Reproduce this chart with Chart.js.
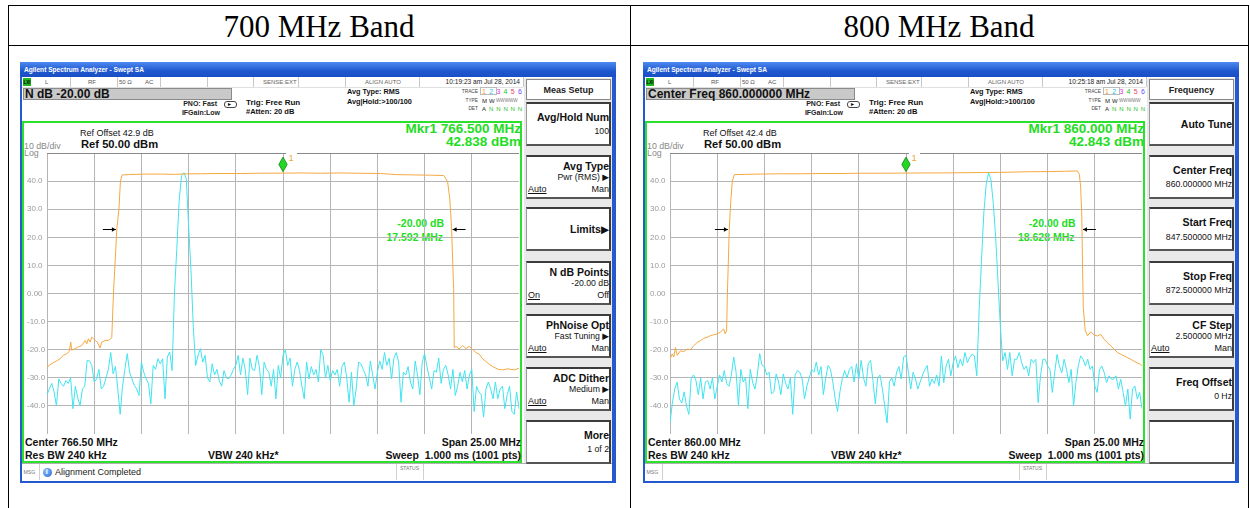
<!DOCTYPE html>
<html><head><meta charset="utf-8">
<script src="https://cdn.jsdelivr.net/npm/chart.js@4.4.1/dist/chart.umd.min.js"></script>
<style>
html,body{margin:0;padding:0;background:#fff;}
#root{position:relative;width:1250px;height:508px;overflow:hidden;font-family:"Liberation Sans",Arial,sans-serif;}
canvas{position:absolute;}
</style></head>
<body><div id="root"></div>
<script>
// ---------------- DATA ----------------
const bandTitles = ['700 MHz Band', '800 MHz Band'];
const sweepStepMHz = 0.125;             // trace sample spacing
const span700 = [754.0, 779.0];         // start / stop (MHz)
const span800 = [847.5, 872.5];
const levelTicks = [50, 40, 30, 20, 10, 0, -10, -20, -30, -40, -50];
const levelTickLabels = ['', '40.0', '30.0', '20.0', '10.0', '0.00', '-10.0', '-20.0', '-30.0', '-40.0', ''];

// Trace 1 (orange, average) 700 MHz
const orangeFreq700 = [754.0,754.16,754.34,754.51,754.69,754.87,755.05,755.18,755.26,755.31,755.49,755.66,755.84,756.02,756.11,756.19,756.28,756.37,756.46,756.55,756.67,756.81,756.90,757.08,757.25,757.43,757.52,757.70,757.81,757.89,757.98,758.3,758.67,759.2,760.0,760.8,761.5,762.12,763.0,764.24,765.3,766.53,767.5,768.49,769.6,770.5,771.67,772.1,772.52,773.4,774.33,775.02,775.22,775.34,775.43,775.54,775.57,775.66,775.83,776.01,776.19,776.36,776.54,776.72,776.89,777.07,777.25,777.42,777.60,777.87,778.13,778.40,778.75,779.0];
const orangeLevel700 = [-26.2,-25.4,-24.6,-24.0,-23.2,-22.0,-21.4,-20.6,-17.3,-20.2,-19.6,-19.0,-18.5,-16.7,-17.9,-16.1,-17.3,-15.5,-16.1,-16.7,-17.3,-19.4,-17.3,-16.7,-16.7,-15.8,0,23,30,40,42.2,42.3,42.4,42.5,42.5,42.4,42.6,42.6,42.7,42.7,42.8,42.84,42.9,42.8,42.9,42.8,42.7,42.5,42.3,42.2,42.1,42.0,39.8,33.3,23,1.4,-19.3,-18.8,-19.8,-18.5,-19.6,-18.8,-19.9,-21.0,-21.6,-23.2,-24.2,-25.2,-26.0,-26.9,-27.2,-26.8,-27.2,-26.6];
// Trace 2 (cyan) 700 MHz, one value per sweep sample
const cyanLevel700 = [
-36,-34,-32,-35,-40,-30.4,-32,-33,-31,-32,
-30,-41,-33,-37,-40,-34,-33,-23.8,-24,-25.6,
-31.5,-30.4,-27,-34,-33,-30,-27,-21,-28.6,-26,
-34,-43,-33,-27,-21.4,-28,-30.4,-32.7,-34,-36.3,
-24.4,-28,-30.4,-32,-39.3,-25.6,-27,-23.2,-25,-23.2,
-37.5,-22.6,-20.8,-27.4,0,16,33,42,43,41,
24,8.5,-12,-25.6,-22,-19.6,-24.4,-22,-30,-31.5,
-25,-29,-27,-31,-33,-27.4,-30,-30.4,-29,-27,
-25.6,-22,-29,-23,-27,-36,-23,-27,-27.4,-22,
-26,-36,-24.4,-27,-28,-33,-27,-37.5,-25.6,-30,
-22,-20,-25.6,-23,-33,-27,-24.4,-27.4,-33,-37.5,
-24.4,-30.4,-26,-29,-27,-31.5,-20,-22,-30,-25.6,
-31,-27.4,-29,-27,-33,-26,-24.4,-30,-38.7,-28,
-40,-34,-24.4,-25,-27,-29,-33,-24,-29,-34,
-28,-24,-27,-21,-25.6,-23,-30.4,-23,-21,-24.4,
-38.7,-28,-29,-26,-31.5,-34,-24,-29,-36,-24.4,
-21.4,-26,-30,-34,-27.4,-28,-23,-32,-27,-25.6,
-29,-34,-27,-36.3,-33,-28,-31.5,-27.4,-34,-29,
-27,-42,-33,-35,-36,-44,-34,-31.5,-34,-37.5,
-31.5,-37.5,-34,-33,-41,-36,-33,-42,-43,-35,
-41];

// Trace 1 (orange) 800 MHz
const orangeFreq800 = [847.5,847.62,847.70,847.79,847.88,848.05,848.23,848.41,848.58,848.76,848.94,849.11,849.28,849.46,849.64,849.81,849.99,850.17,850.34,850.43,850.50,850.54,850.64,850.72,850.80,850.91,851.5,852.28,853.3,854.39,855.5,856.5,857.56,858.8,860.04,861.0,861.78,863.4,864.95,866.3,867.59,868.4,869.07,869.18,869.25,869.31,869.35,869.39,869.49,869.61,869.79,869.97,870.14,870.32,870.49,870.67,870.85,871.02,871.2,871.37,871.55,871.72,871.90,872.08,872.25,872.43,872.5];
const orangeLevel800 = [-23.3,-21.5,-22.6,-19.2,-22.0,-20.4,-20.7,-19.8,-20.0,-18.6,-17.4,-16.8,-16.0,-15.6,-15.0,-14.7,-14.4,-13.8,-12.6,-14.4,-13.0,0,23,33,40,42.3,42.4,42.5,42.6,42.6,42.7,42.7,42.8,42.8,42.85,42.9,42.9,43.0,43.1,43.3,43.4,43.5,43.6,42.5,38,28,10,-5,-13,-15.1,-13.6,-14.8,-15.1,-14.6,-16.3,-17.5,-18.6,-19.8,-21.0,-21.6,-22.2,-22.8,-23.4,-24.1,-24.7,-25.2,-25.8];
// Trace 2 (cyan) 800 MHz
const cyanLevel800 = [
-46,-39,-34,-31.5,-37.5,-39,-35,-40,-43,-30,
-29,-31,-36,-30,-37.5,-31.5,-31,-34,-30,-37.5,
-33,-29,-31.5,-27.4,-32,-33,-29,-22.6,-28,-40,
-27,-31.5,-30,-41,-27,-31.5,-34,-29,-21.4,-25.6,
-26,-29,-28,-35.7,-35,-28.6,-31.5,-36,-28.6,-32,
-34,-30,-43,-29,-27.4,-28,-30.4,-37.5,-33,-30,
-27,-28,-24.4,-29,-26,-36,-30,-25.6,-27,-31.5,
-37.5,-42,-35,-30.4,-27.4,-30,-27,-26,-31.5,-25,
-30.4,-23.8,-30,-33,-25,-23.8,-31,-39.3,-30,-29,
-34,-40,-46,-31.5,-30,-33,-28,-26,-30.4,-22.6,
-22,-28,-34,-28,-30.4,-34,-31.5,-29,-27,-25.6,
-33,-30.4,-32,-29,-33,-22.2,-31.7,-25.8,-23.4,-29.3,
-24.6,-22.2,-26.4,-23.4,-25.8,-21,-24.6,-22.8,-21.6,-22.2,
-29.3,-6,12,29,39,43,40.5,32,20,4,
-12,-24,-21,-27,-21,-29.3,-23.4,-23.4,-21,-24.6,
-27,-25.8,-29.3,-23.4,-24.6,-23.4,-38.8,-29.3,-23.4,-23.4,
-25.8,-27,-35.2,-28.2,-21.7,-25.8,-28.2,-23.4,-27,-31.7,
-27,-40,-31.7,-25.8,-22.2,-23.4,-25.8,-23.4,-27,-25.8,
-32.9,-35.2,-27,-25.8,-28.2,-31.7,-29.3,-30.5,-30.5,-29.3,
-34,-30.5,-35.2,-40,-34,-44.7,-34,-32.9,-37.6,-35.2,
-41];

// Marker 1 [freq MHz, level dBm] and N dB points [left MHz, right MHz, level dBm]
const marker700 = [766.5, 42.838];
const ndb700 = [757.7, 775.43, 22.838];
const marker800 = [860.0, 42.843];
const ndb800 = [850.62, 869.32, 22.843];

// ---------------- PAGE ----------------
const R = document.getElementById('root');
const FONT = '"Liberation Sans",Arial,"DejaVu Sans",sans-serif';
function el(css, text){ const d=document.createElement('div'); d.style.cssText='position:absolute;'+css; if(text!=null) d.textContent=text; R.appendChild(d); return d; }
function box(x,y,w,h,css){ return el(`left:${x}px;top:${y}px;width:${w}px;height:${h}px;${css||''}`); }
function txt(x, cy, s, size, o){
  o = o||{};
  const a = o.align||'l';
  let pos = a==='r' ? `right:${1250-x}px;` : `left:${x}px;`;
  if(a==='c') pos += 'transform:translateX(-50%);';
  return el(`${pos}top:${(cy-size*0.56).toFixed(1)}px;font-size:${size}px;line-height:${(size*1.15).toFixed(2)}px;white-space:nowrap;font-weight:${o.b?'bold':'normal'};color:${o.c||'#000'};font-family:${o.f||FONT};${o.css||''}`, s);
}

// table
box(8,5,1241,1,'background:#000');
box(8,45,1241,1,'background:#000');
box(8,5,1,503,'background:#000');
box(630,5,1,503,'background:#000');
box(1248,5,1,503,'background:#000');
txt(319, 26.5, bandTitles[0], 31, {align:'c', f:'"Liberation Serif","Times New Roman",serif'});
txt(939, 26.5, bandTitles[1], 31, {align:'c', f:'"Liberation Serif","Times New Roman",serif'});

function buildScreen(ox, c){
  box(ox,62,596,421,'background:#2559cf');
  box(ox,62,596,15,'background:linear-gradient(#4d8af0,#1f57cf 60%,#1a4fc4)');
  txt(ox+4,69.5,'Agilent Spectrum Analyzer - Swept SA',6.6,{b:1,c:'#fff'});
  box(ox+2,77,590,404,'background:#fff');
  // status row
  [50,97,140,187,233,278,325,399,503].forEach(s=>box(ox+s,77,1,10,'background:#c8c8c8'));
  box(ox+2,87,501,1,'background:#e0e0e0');
  box(ox+3,78,8,8,'background:#1fb81f');
  txt(ox+3.5,82,'LXI',4.5,{b:1,c:'#000'});
  txt(ox+25,82,'L',6,{c:'#555'});
  txt(ox+68,82,'RF',6,{c:'#555'});
  txt(ox+99,82,'50 Ω',6,{c:'#555'});
  txt(ox+125,82,'AC',6,{c:'#555'});
  txt(ox+243,82,'SENSE:EXT',6,{c:'#666'});
  txt(ox+345,82,'ALIGN AUTO',6,{c:'#666'});
  txt(ox+500,82,c.time,6.6,{align:'r',c:'#222'});
  // active function box
  box(ox+3,88,209,12,'background:#c9c9c9;border:1px solid #8a8a8a;box-sizing:border-box');
  txt(ox+5,94.2,c.active,12,{b:1,c:'#111'});
  txt(ox+197,104,'PNO: Fast',7,{b:1,align:'r',c:'#222'});
  txt(ox+200,113,'IFGain:Low',7,{b:1,align:'r',c:'#222'});
  box(ox+204,101,13,7,'border:1px solid #444;border-radius:3px;box-sizing:border-box;background:#fff');
  txt(ox+208,104.6,'▸',6,{c:'#000',f:'"DejaVu Sans"'});
  txt(ox+226,102,'Trig: Free Run',8,{b:1,c:'#111'});
  txt(ox+226,112,'#Atten: 20 dB',7.5,{b:1,c:'#111'});
  txt(ox+327,92,'Avg Type: RMS',7.3,{b:1,c:'#111'});
  txt(ox+327,102,'Avg|Hold:>100/100',7.3,{b:1,c:'#111'});
  txt(ox+458,92,'TRACE',4.8,{align:'r',c:'#444'});
  txt(ox+458,101,'TYPE',4.8,{align:'r',c:'#444'});
  txt(ox+458,109,'DET',4.8,{align:'r',c:'#444'});
  box(ox+460,87,17,8,'border:1px solid #bbb;box-sizing:border-box');
  const tc=['#f09a18','#22c8d8','#e030e0','#22c022','#ee3a6a','#6a4cff'];
  tc.forEach((col,i)=>txt(ox+462+i*7.2,92,String(i+1),7,{c:col}));
  txt(ox+462,101,'M',6,{c:'#222'});
  txt(ox+469,101,'W',6,{c:'#222'});
  txt(ox+476,101,'WWWWW',4.6,{c:'#777'});
  txt(ox+462,109.5,'A',6,{c:'#222'});
  [0,1,2,3,4].forEach(i=>txt(ox+469+i*7.2,109.5,'N',6,{c:'#22bb22'}));
  // green frame
  box(ox+2,121,500,342,'border:2px solid #2ee02e;box-sizing:border-box');
  txt(ox+60,133,c.refOffset,9,{c:'#111'});
  txt(ox+61,144,'Ref 50.00 dBm',11.2,{b:1,c:'#111'});
  txt(ox+4,145.5,'10 dB/div',8.8,{c:'#888'});
  txt(ox+4,153,'Log',8.8,{c:'#888'});
  txt(ox+501,128.5,c.mkrF,13.5,{b:1,align:'r',c:'#22dd22'});
  txt(ox+501,141.5,c.mkrA,13.5,{b:1,align:'r',c:'#22dd22'});
  txt(c.ndbX,222.5,'-20.00 dB',10.5,{b:1,align:'r',c:'#22dd22'});
  txt(c.ndbX-1,236.8,c.ndbBw,10.5,{b:1,align:'r',c:'#22dd22'});
  txt(ox+5,442.3,c.center,10.5,{b:1,c:'#111'});
  txt(ox+5,454.6,'Res BW 240 kHz',10.5,{b:1,c:'#111'});
  txt(ox+188,454.6,'VBW 240 kHz*',10.5,{b:1,c:'#111'});
  txt(ox+501,442.3,'Span 25.00 MHz',10.5,{b:1,align:'r',c:'#111'});
  txt(ox+501,454.6,'Sweep  1.000 ms (1001 pts)',10.5,{b:1,align:'r',c:'#111',css:'white-space:pre'});
  // status bar
  box(ox+2,463,590,1,'background:#b0b0b0');
  box(ox+19,464,1,16,'background:#d0d0d0');
  txt(ox+3.5,472,'MSG',5.2,{c:'#777'});
  if(c.msg){
    box(ox+23,467.5,9,9,'border-radius:50%;background:radial-gradient(circle at 35% 35%,#8fc2ff,#1f62d0)');
    txt(ox+25.8,472,'i',7.5,{b:1,c:'#fff'});
    txt(ox+35,472,c.msg,9,{c:'#222'});
  }
  box(ox+376,464,1,16,'background:#d0d0d0');
  box(ox+403,464,1,16,'background:#d0d0d0');
  txt(ox+389.5,469,'STATUS',5,{align:'c',c:'#777'});
  // softkey panel
  box(ox+504,78,88,385,'background:#e9e9e9');
  box(ox+506,79,85,21,'background:#fff;border:1px solid #888;box-sizing:border-box');
  txt(ox+548.5,89.5,c.menu,9,{b:1,align:'c',c:'#222'});
  const tops=[101.5,154.5,207,260.5,313.5,366.5,419.5];
  c.keys.forEach((k,i)=>{
    const t=tops[i];
    box(ox+506,t,85,44,'background:#fff;border-top:2px solid #3c3c3c;border-right:2px solid #3c3c3c;border-bottom:2px solid #555;border-left:1px solid #9a9a9a;box-sizing:border-box');
    if(!k.t) return;
    const rx=ox+589;
    if(k.a){
      txt(rx,t+11.5,k.t,10.5,{b:1,align:'r',c:'#111'});
      txt(rx,t+22.5,k.v,8.7,{align:'r',c:'#111'});
      txt(ox+508,t+34,k.a[0],9,{c:'#111',css:'text-decoration:underline'});
      txt(rx,t+34,k.a[1],9,{align:'r',c:'#111'});
    } else if(k.v){
      txt(rx,t+15,k.t,10.5,{b:1,align:'r',c:'#111'});
      txt(rx,t+29.5,k.v,8.7,{align:'r',c:'#111'});
    } else {
      txt(rx,t+22.3,k.t,10.5,{b:1,align:'r',c:'#111'});
    }
  });
  const cv=document.createElement('canvas');
  cv.width=492; cv.height=281;
  cv.style.left=(ox+7)+'px'; cv.style.top='153px';
  R.appendChild(cv);
  return cv;
}

const cv700 = buildScreen(20, {
  time:'10:19:23 am Jul 28, 2014', active:'N dB -20.00 dB', refOffset:'Ref Offset 42.9 dB',
  mkrF:'Mkr1 766.500 MHz', mkrA:'42.838 dBm', ndbX:444, ndbBw:'17.592 MHz', center:'Center 766.50 MHz',
  msg:'Alignment Completed', menu:'Meas Setup',
  keys:[{t:'Avg/Hold Num',v:'100'},{t:'Avg Type',v:'Pwr (RMS) ▶',a:['Auto','Man']},{t:'Limits▶'},
        {t:'N dB Points',v:'-20.00 dB',a:['On','Off']},{t:'PhNoise Opt',v:'Fast Tuning ▶',a:['Auto','Man']},
        {t:'ADC Dither',v:'Medium ▶',a:['Auto','Man']},{t:'More',v:'1 of 2'}]
});
const cv800 = buildScreen(643, {
  time:'10:25:18 am Jul 28, 2014', active:'Center Freq 860.000000 MHz', refOffset:'Ref Offset 42.4 dB',
  mkrF:'Mkr1 860.000 MHz', mkrA:'42.843 dBm', ndbX:1075.5, ndbBw:'18.628 MHz', center:'Center 860.00 MHz',
  msg:'', menu:'Frequency',
  keys:[{t:'Auto Tune'},{t:'Center Freq',v:'860.000000 MHz'},{t:'Start Freq',v:'847.500000 MHz'},
        {t:'Stop Freq',v:'872.500000 MHz'},{t:'CF Step',v:'2.500000 MHz',a:['Auto','Man']},
        {t:'Freq Offset',v:'0 Hz'},{}]
});

// ---------------- CHARTS ----------------
Chart.defaults.font.family = '"Liberation Sans", Arial, sans-serif';

function arrow(ctx, from, to, y){
  ctx.strokeStyle='#000'; ctx.fillStyle='#000'; ctx.lineWidth=1;
  ctx.beginPath(); ctx.moveTo(from,y); ctx.lineTo(to,y); ctx.stroke();
  const d = to>from?1:-1;
  ctx.beginPath(); ctx.moveTo(to,y); ctx.lineTo(to-4*d,y-2.2); ctx.lineTo(to-4*d,y+2.2); ctx.closePath(); ctx.fill();
}
const annotPlugin = {
  id:'annot',
  afterDatasetsDraw(chart, args, o){
    const ctx=chart.ctx, xs=chart.scales.x, ys=chart.scales.y;
    const mx=xs.getPixelForValue(o.marker[0]), my=ys.getPixelForValue(o.marker[1]);
    ctx.save();
    ctx.fillStyle='#fff'; ctx.fillRect(mx+3, ys.top-1, 11, 4);
    ctx.beginPath();
    ctx.moveTo(mx,my-1.5); ctx.lineTo(mx+4.2,my-8.7); ctx.lineTo(mx,my-16); ctx.lineTo(mx-4.2,my-8.7); ctx.closePath();
    ctx.fillStyle='#22d822'; ctx.fill(); ctx.lineWidth=0.8; ctx.strokeStyle='#167d16'; ctx.stroke();
    ctx.fillStyle='#f0a030'; ctx.font='9px "Liberation Sans"'; ctx.textBaseline='top';
    ctx.fillText('1', mx+5.5, ys.top+1.5);
    const ay=Math.round(ys.getPixelForValue(o.ndb[2]))+0.5;
    const lx=xs.getPixelForValue(o.ndb[0]), rx=xs.getPixelForValue(o.ndb[1]);
    arrow(ctx, lx-14, lx-1, ay);
    arrow(ctx, rx+14, rx+1, ay);
    ctx.restore();
  }
};

function makeChart(cv, span, oF, oL, cL, marker, ndb){
  const orangePts = oF.map((f,i)=>({x:f, y:oL[i]}));
  const cyanPts = cL.map((v,i)=>({x:span[0]+i*sweepStepMHz, y:v}));
  return new Chart(cv, {
    type:'line',
    data:{datasets:[
      {data:orangePts, borderColor:'#f5a840', borderWidth:1, pointRadius:0, tension:0},
      {data:cyanPts, borderColor:'#40e4f0', borderWidth:1, pointRadius:0, tension:0}
    ]},
    options:{
      responsive:false, animation:false, events:[],
      layout:{padding:0},
      plugins:{legend:{display:false}, tooltip:{enabled:false}, annot:{marker, ndb}},
      scales:{
        x:{type:'linear', min:span[0], max:span[1],
           ticks:{display:false, stepSize:2.5},
           grid:{color:'#b5b5b5', lineWidth:1, drawTicks:false},
           border:{display:false},
           afterFit(s){ s.height=0; s.paddingLeft=0; s.paddingRight=0; }},
        y:{min:-50, max:50,
           ticks:{stepSize:10, color:'#9a9a9a', font:{size:8}, crossAlign:'far', padding:2,
                  callback:(v)=>{ const i=levelTicks.indexOf(v); return i<0?'':levelTickLabels[i]; }},
           grid:{color:(c)=> (c.tick && c.tick.value===50) ? '#8a8a8a' : '#b5b5b5',
                 lineWidth:(c)=> (c.tick && c.tick.value===50) ? 2 : 1, drawTicks:false},
           border:{display:false},
           afterFit(s){ s.width=20; s.paddingTop=0; s.paddingBottom=0; }}
      }
    },
    plugins:[annotPlugin]
  });
}
makeChart(cv700, span700, orangeFreq700, orangeLevel700, cyanLevel700, marker700, ndb700);
makeChart(cv800, span800, orangeFreq800, orangeLevel800, cyanLevel800, marker800, ndb800);
</script>
</body></html>
